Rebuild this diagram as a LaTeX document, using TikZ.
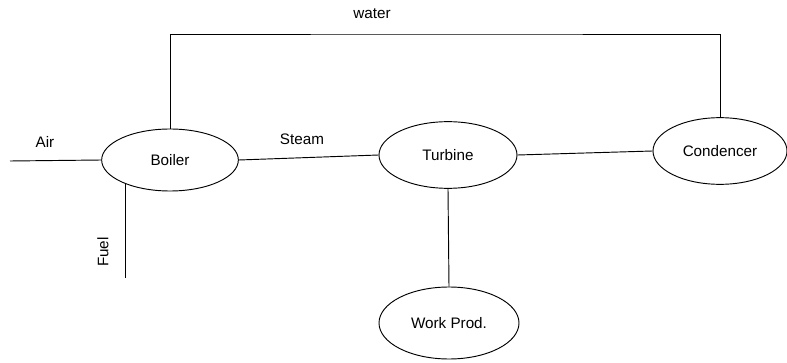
\documentclass[tikz,border=0pt]{standalone}
\usepackage{fontspec}
\setmainfont{Liberation Sans}
\usetikzlibrary{shapes.geometric,positioning}
\tikzset{
  unit/.style={ellipse,draw,line width=0.8pt,inner sep=0pt},
  flow/.style={line width=0.8pt},
  tag/.style={inner sep=1pt}
}

\begin{document}
\begin{tikzpicture}[font=\fontsize{13}{15}\selectfont,x=0.3mm,y=-0.3mm]
\useasboundingbox (0,0) rectangle (787,363);
\node[unit,minimum width=41mm,minimum height=18.6mm] (boiler) at (170,160) {Boiler};
\node[unit,minimum width=41.4mm,minimum height=20mm] (turbine) at (448,155) {Turbine};
\node[unit,minimum width=40.2mm,minimum height=20mm] (cond) at (720,151) {Condencer};
\node[unit,minimum width=42mm,minimum height=21.6mm] (work) at (449,323) {Work Prod.};
\coordinate (airin) at (10,161);
\coordinate (fuelin) at (126,278);
\coordinate (wtop) at (448,34);
\draw[flow] (airin) -- (boiler.west);
\draw[flow] (boiler.208) -- (boiler.208 |- fuelin);
\draw[flow] (boiler.north) |- (wtop) -| (cond.north);
\draw[flow] (boiler.east) -- (turbine.west);
\draw[flow] (turbine.east) -- (cond.west);
\draw[flow] (turbine.south) -- (work.north);
\node[tag] (air) at (45,142) {Air};
\node[tag] (steam) at (302,139) {Steam};
\node[tag] (water) at (372,14) {water};
\node[tag,rotate=90] (fuel) at (103,252) {Fuel};
\end{tikzpicture}
\end{document}
